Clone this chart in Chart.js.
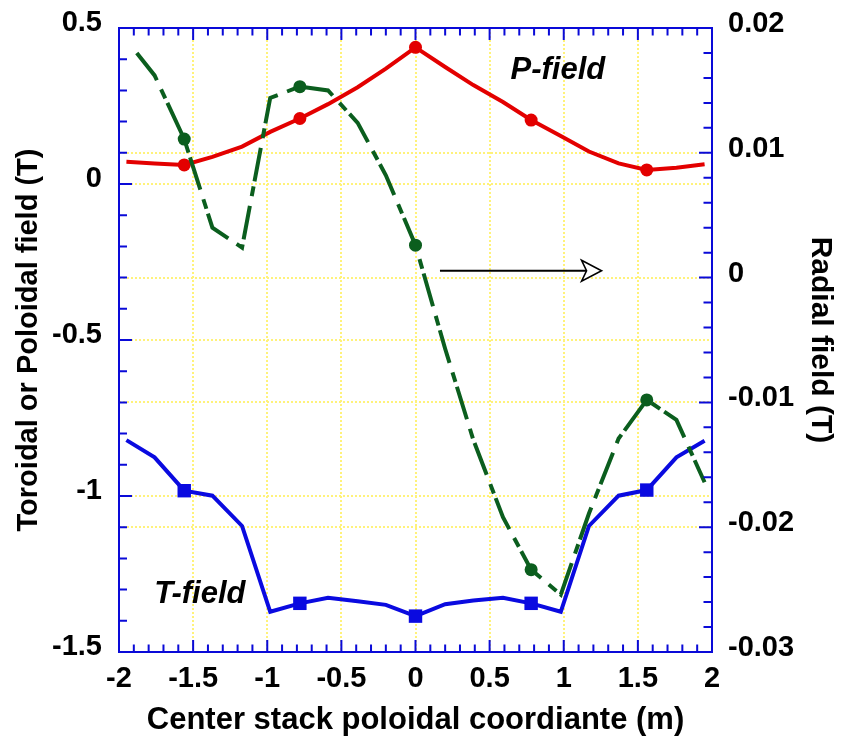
<!DOCTYPE html>
<html>
<head>
<meta charset="utf-8">
<script src="https://cdn.jsdelivr.net/npm/chart.js@4.4.1/dist/chart.umd.min.js"></script>
<style>
  html, body { margin: 0; padding: 0; background: #fff; }
  #wrap { width: 842px; height: 740px; }
</style>
</head>
<body>
<div id="wrap"><canvas id="c" width="842" height="740"></canvas></div>
<script>
// values
const xPos = [-1.95, -1.76, -1.56, -1.37, -1.17, -0.98, -0.78, -0.59, -0.39, -0.2, 0,
              0.2, 0.39, 0.59, 0.78, 0.98, 1.17, 1.37, 1.56, 1.76, 1.95];
const pField = [0.071, 0.066, 0.061, 0.087, 0.12, 0.167, 0.21, 0.256, 0.31, 0.37, 0.438,
                0.375, 0.317, 0.263, 0.205, 0.154, 0.104, 0.066, 0.045, 0.052, 0.063];
const tField = [-0.821, -0.876, -0.983, -0.999, -1.096, -1.371, -1.344, -1.326, -1.337, -1.349, -1.385,
                -1.347, -1.335, -1.326, -1.344, -1.371, -1.096, -0.999, -0.981, -0.876, -0.823];
const xRadial = [-1.88, -1.76, -1.56, -1.37, -1.17, -0.98, -0.78, -0.59, -0.39, -0.2, 0,
                 0.2, 0.39, 0.59, 0.78, 0.98, 1.17, 1.37, 1.56, 1.76, 1.95];
const radialField = [0.0180, 0.0162, 0.0111, 0.0040, 0.0024, 0.0144, 0.0153, 0.0150, 0.0124, 0.0082, 0.0026,
                     -0.0057, -0.0130, -0.0192, -0.0234, -0.0254, -0.0189, -0.0129, -0.0098, -0.0114, -0.0164];
const markerX = [-1.56, -0.78, 0, 0.78, 1.56];

const xTickLabels = ['-2', '-1.5', '-1', '-0.5', '0', '0.5', '1', '1.5', '2'];
const leftTickLabels = ['-1.5', '-1', '-0.5', '0', '0.5'];
const rightTickLabels = ['-0.03', '-0.02', '-0.01', '0', '0.01', '0.02'];

const AXIS_BLUE = '#0a0ad8';
const GRID_YELLOW = '#fff27a';
const FONT = "'Liberation Sans', Arial, sans-serif";

function labelFor(labels, v) {
  const i = labels.findIndex(l => Math.abs(Number(l) - v) < 1e-7);
  return i >= 0 ? labels[i] : '';
}

function pts(xs, ys) {
  return xs.map((x, i) => ({ x, y: ys[i] }));
}

function markerRadius(r) {
  return ctx => (ctx.raw && markerX.some(m => Math.abs(m - ctx.raw.x) < 1e-6)) ? r : 0;
}

function gridColor(labels) {
  return ctx => {
    const v = ctx.tick ? ctx.tick.value : NaN;
    const edge = v === Number(labels[0]) || v === Number(labels[labels.length - 1]);
    return labelFor(labels, v) !== '' && !edge ? GRID_YELLOW : 'rgba(0,0,0,0)';
  };
}

// fixed axis widths so the plot box sits where it does in the reference
function fixWidth(w) {
  return s => { s.width = w; s.paddingTop = 0; s.paddingBottom = 0; };
}

// blue frame with inward tick marks on all four sides, plus the text and arrow notes
const framePlugin = {
  id: 'frame',
  afterDraw(chart) {
    const { ctx, chartArea: a, scales } = chart;
    ctx.save();
    ctx.strokeStyle = AXIS_BLUE;
    ctx.lineWidth = 2;
    ctx.strokeRect(a.left, a.top, a.right - a.left, a.bottom - a.top);

    ctx.beginPath();
    scales.x.ticks.forEach(t => {
      const px = scales.x.getPixelForValue(t.value);
      const len = labelFor(xTickLabels, t.value) ? 12 : 7.5;
      ctx.moveTo(px, a.bottom); ctx.lineTo(px, a.bottom - len);
      ctx.moveTo(px, a.top); ctx.lineTo(px, a.top + len);
    });
    scales.y.ticks.forEach(t => {
      const py = scales.y.getPixelForValue(t.value);
      const len = labelFor(leftTickLabels, t.value) ? 13 : 8;
      ctx.moveTo(a.left, py); ctx.lineTo(a.left + len, py);
    });
    scales.y1.ticks.forEach(t => {
      const py = scales.y1.getPixelForValue(t.value);
      const len = labelFor(rightTickLabels, t.value) ? 13 : 8.5;
      ctx.moveTo(a.right, py); ctx.lineTo(a.right - len, py);
    });
    ctx.stroke();

    // arrow pointing to the radial field axis
    const ax0 = scales.x.getPixelForValue(0.165);
    const ax1 = scales.x.getPixelForValue(1.255);
    const ay = scales.y1.getPixelForValue(0.00055);
    ctx.strokeStyle = '#000';
    ctx.lineWidth = 2;
    ctx.beginPath();
    ctx.moveTo(ax0, ay); ctx.lineTo(ax1 - 14, ay);
    ctx.stroke();
    ctx.beginPath();
    ctx.moveTo(ax1 - 20, ay - 10.5);
    ctx.lineTo(ax1, ay);
    ctx.lineTo(ax1 - 20, ay + 10.5);
    ctx.lineTo(ax1 - 15, ay);
    ctx.closePath();
    ctx.fillStyle = '#fff';
    ctx.fill();
    ctx.lineWidth = 1.6;
    ctx.stroke();

    ctx.fillStyle = '#000';
    ctx.font = 'italic bold 31px ' + FONT;
    ctx.textAlign = 'center';
    ctx.textBaseline = 'middle';
    ctx.fillText('P-field', scales.x.getPixelForValue(0.96), scales.y.getPixelForValue(0.365));
    ctx.fillText('T-field', scales.x.getPixelForValue(-1.455), scales.y.getPixelForValue(-1.317));
    ctx.restore();
  }
};

const tickFont = { family: FONT, size: 29, weight: 'bold' };

new Chart(document.getElementById('c'), {
  type: 'line',
  data: {
    datasets: [
      {
        label: 'Radial field',
        data: pts(xRadial, radialField),
        yAxisID: 'y1',
        borderColor: '#0b5e1e',
        backgroundColor: '#0b5e1e',
        borderWidth: 4,
        borderDash: [34, 10, 10, 5],
        borderCapStyle: 'butt',
        pointStyle: 'circle',
        pointRadius: markerRadius(6.5),
        pointBorderWidth: 0,
        tension: 0,
      },
      {
        label: 'T-field',
        data: pts(xPos, tField),
        yAxisID: 'y',
        borderColor: '#0a0ae0',
        backgroundColor: '#0a0ae0',
        borderWidth: 4,
        pointStyle: 'rect',
        pointRadius: markerRadius(9.5),
        pointBorderWidth: 0,
        tension: 0,
      },
      {
        label: 'P-field',
        data: pts(xPos, pField),
        yAxisID: 'y',
        borderColor: '#e30000',
        backgroundColor: '#e30000',
        borderWidth: 4,
        pointStyle: 'circle',
        pointRadius: markerRadius(6.5),
        pointBorderWidth: 0,
        tension: 0,
      },
    ],
  },
  options: {
    responsive: false,
    animation: false,
    devicePixelRatio: 1,
    layout: { padding: { top: 28, left: 0, right: 0, bottom: 0 } },
    plugins: { legend: { display: false }, tooltip: { enabled: false } },
    scales: {
      x: {
        type: 'linear',
        position: 'bottom',
        min: -2, max: 2,
        afterFit: s => { s.height = 88; s.paddingLeft = 0; s.paddingRight = 0; },
        ticks: {
          stepSize: 0.1, autoSkip: false, maxRotation: 0, padding: 10,
          color: '#000', font: tickFont,
          callback: v => labelFor(xTickLabels, v),
        },
        grid: { color: gridColor(xTickLabels), lineWidth: 2, drawTicks: false },
        border: { display: false, dash: [2, 2] },
        title: {
          display: true, text: 'Center stack poloidal coordiante (m)', color: '#000',
          font: { family: FONT, size: 31, weight: 'bold' }, padding: { top: 0, bottom: 1 },
        },
      },
      y: {
        position: 'left',
        min: -1.5, max: 0.5,
        afterFit: fixWidth(119),
        ticks: {
          stepSize: 0.1, autoSkip: false, padding: 17, labelOffset: -5,
          color: '#000', font: tickFont,
          callback: v => labelFor(leftTickLabels, v),
        },
        grid: { color: gridColor(leftTickLabels), lineWidth: 2, drawTicks: false },
        border: { display: false, dash: [2, 2] },
        title: {
          display: true, text: 'Toroidal or Poloidal field (T)', color: '#000',
          font: { family: FONT, size: 29, weight: 'bold' }, padding: { top: 12, bottom: 0 },
        },
      },
      y1: {
        position: 'right',
        min: -0.03, max: 0.02,
        afterFit: fixWidth(130),
        ticks: {
          stepSize: 0.002, autoSkip: false, padding: 16, labelOffset: -4,
          color: '#000', font: tickFont,
          callback: v => labelFor(rightTickLabels, v),
        },
        grid: { color: gridColor(rightTickLabels), lineWidth: 2, drawTicks: false },
        border: { display: false, dash: [2, 2] },
        title: {
          display: true, text: 'Radial field (T)', color: '#000',
          font: { family: FONT, size: 30, weight: 'bold' }, padding: { top: 4, bottom: 0 },
        },
      },
    },
  },
  plugins: [framePlugin],
});
</script>
</body>
</html>
